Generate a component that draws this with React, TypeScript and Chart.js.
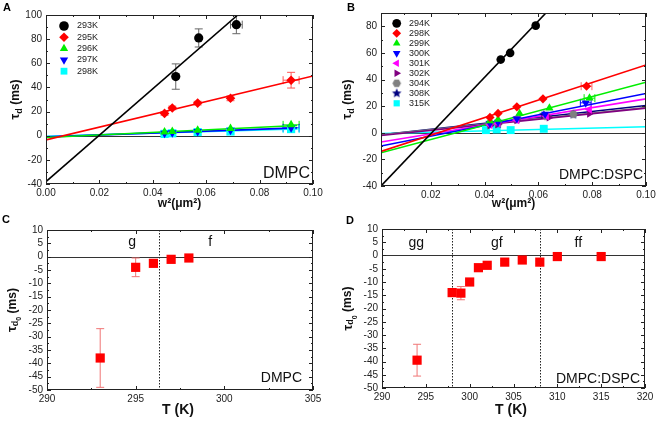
import React, { useEffect, useRef } from 'react';
import { Chart, registerables } from 'chart.js';
import { drawPoint } from 'chart.js/helpers';

Chart.register(...registerables);

const FONT = "'Liberation Sans', Arial, Helvetica, sans-serif";

// ---------------- Panel A (DMPC): tau_d vs w^2 ----------------
const aLabels = ['293K', '295K', '296K', '297K', '298K'];
const aColors = ['#000000', '#ff0000', '#00ee00', '#0000ff', '#00ffff'];
const aX293 = [0.0486, 0.0572, 0.0713];
const aY293 = [49, 81, 92];
const aErrY293 = [10.5, 7.5, 7.5];
const aErrX293 = [0, 0, 0.0022];
const aXw = [0.0444, 0.0473, 0.0568, 0.0691, 0.0918];
const aY295 = [18.5, 23, 27, 31, 46];
const aErrY295 = [1.5, 1.5, 1.5, 2, 6.5];
const aErrXw = [0, 0, 0, 0, 0.003];
const aY296 = [3, 3.5, 4.5, 6, 9];
const aY297 = [2, 2.5, 3.5, 4.5, 6.5];
const aY298 = [1.5, 2, 3, 3.5, 5.5];
// fit lines: [x0, y0, x1, y1]
const aFit293 = [0, -38, 0.0718, 100];
const aFit295 = [0, -3.5, 0.1, 49.5];
const aFit296 = [0, -1.5, 0.094, 8.5];
const aFit297 = [0, -1, 0.094, 6.5];
const aFit298 = [0, -0.5, 0.094, 5.5];
const aXRange = [0, 0.1, 0.02];
const aYRange = [-40, 100, 20];

// ---------------- Panel B (DMPC:DSPC): tau_d vs w^2 ----------------
const bLabels = ['294K', '298K', '299K', '300K', '301K', '302K', '304K', '308K', '315K'];
const bColors = ['#000000', '#ff0000', '#00ee00', '#0000ff', '#ff00ff', '#800080', '#808080', '#000080', '#00ffff'];
const bX294 = [0.046, 0.0495, 0.059];
const bY294 = [55, 60, 80.5];
const bX298 = [0.042, 0.045, 0.052, 0.0617, 0.0779];
const bY298 = [11.5, 14.5, 19.5, 25.5, 35];
const bX299 = [0.042, 0.045, 0.053, 0.0641, 0.079];
const bY299 = [9, 10, 14.5, 18.5, 26];
const bX300 = [0.042, 0.045, 0.052, 0.0625, 0.0776];
const bY300 = [7, 8, 10.5, 14, 22.5];
const bX301 = [0.042, 0.045, 0.052, 0.063, 0.079];
const bY301 = [6, 7, 9.5, 12.5, 17.5];
const bX302 = [0.042, 0.045, 0.052, 0.064, 0.079];
const bY302 = [5.5, 6.5, 9.5, 11.5, 14.5];
const bX304 = [0.042, 0.045, 0.052, 0.063, 0.073];
const bY304 = [6.5, 7, 10, 12.5, 14];
const bX308 = [0.042, 0.045, 0.052, 0.062, 0.073];
const bY308 = [7.5, 6.5, 10.5, 13.5, 13.7];
const bX315 = [0.0405, 0.0445, 0.0497, 0.062];
const bY315 = [2, 2.5, 2, 3];
const bErrX5 = [0, 0, 0, 0, 0.002];
const bFit294 = [0.0015, -40, 0.0628, 90];
const bFit298 = [0.0015, -14, 0.1, 51];
const bFit299 = [0.0015, -15, 0.1, 38];
const bFit300 = [0.0015, -10, 0.1, 29.5];
const bFit301 = [0.0015, -7, 0.1, 25.5];
const bFit302 = [0.0015, -2, 0.1, 18.5];
const bFit304 = [0.0015, -1.5, 0.1, 19];
const bFit308 = [0.0015, -1.5, 0.1, 20.5];
const bFit315 = [0.0015, -0.5, 0.1, 4.5];
const bXRange = [0.0015, 0.1, 0.02];
const bYRange = [-40, 90, 20];

// ---------------- Panel C (DMPC): tau_d0 vs T ----------------
const cT = [293, 295, 296, 297, 298];
const cTau0 = [-38, -4, -2.5, -1, -0.5];
const cErr = [11, 3.5, 0.5, 0.5, 0.5];
const cBoundaries = [296.3];
const cPhaseLabels = ['g', 'f'];
const cPhaseX = [294.8, 299.2];
const cXRange = [290, 305, 5];
const cYRange = [-50, 10, 5];

// ---------------- Panel D (DMPC:DSPC): tau_d0 vs T ----------------
const dT = [294, 298, 299, 300, 301, 302, 304, 306, 308, 310, 315];
const dTau0 = [-39.5, -14, -14.2, -10, -4.6, -3.7, -2.5, -1.7, -2.5, -0.4, -0.4];
const dErr = [6, 0.5, 2.5, 0.8, 0.5, 0.5, 0.5, 0.5, 0.5, 0.5, 0.5];
const dBoundaries = [298, 308];
const dPhaseLabels = ['gg', 'gf', 'ff'];
const dPhaseX = [293.9, 303.1, 312.4];
const dXRange = [290, 320, 5];
const dYRange = [-50, 10, 5];

// ---------------------------------------------------------------
function shapeCanvas(color: string, R: number, kind: string) {
  const c = document.createElement('canvas');
  const size = Math.ceil(R * 2) + 2;
  c.width = size;
  c.height = size;
  const g = c.getContext('2d')!;
  g.fillStyle = color;
  g.beginPath();
  if (kind === 'star') {
    for (let i = 0; i < 10; i++) {
      const r = i % 2 === 0 ? R : R * 0.45;
      const ang = -Math.PI / 2 + (i * Math.PI) / 5;
      g.lineTo(size / 2 + r * Math.cos(ang), size / 2 + r * Math.sin(ang));
    }
  } else {
    for (let i = 0; i < 6; i++) {
      const ang = (i * Math.PI) / 3;
      g.lineTo(size / 2 + R * Math.cos(ang), size / 2 + R * Math.sin(ang));
    }
  }
  g.closePath();
  g.fill();
  return c;
}

interface Series {
  label?: string;
  color: string;
  style: any;
  rot?: number;
  radius: number;
  xs: number[];
  ys: number[];
  errY?: number[];
  errX?: number[];
  errColor?: string;
  fit?: number[];
}

interface Part { text: string; font: string; dy?: number }

interface PanelDef {
  box: { left: number; top: number; w: number; h: number };
  area: { l: number; r: number; t: number; b: number };
  xr: number[];
  yr: number[];
  xDec: number;
  series: Series[];
  legend?: { dx: number; dy0: number; row: number; gap: number; r: number; font: string };
  letter: { text: string; x: number; y: number };
  xTitle: { parts: Part[]; y: number; cx?: number };
  yTitle: { parts: Part[]; x: number };
  sample: { text: string; font: string; dr: number; db: number };
  boundaries?: number[];
  phases?: { labels: string[]; xs: number[]; dt: number };
}

const BOLD = (s: number) => `bold ${s}px ${FONT}`;
const NORM = (s: number) => `${s}px ${FONT}`;

function resolveStyle(s: Series) {
  if (s.style === 'star' || s.style === 'hexagon') return shapeCanvas(s.color, s.radius, s.style);
  return s.style;
}

function drawRich(ctx: CanvasRenderingContext2D, parts: Part[], cx: number, cy: number, rotate: boolean) {
  ctx.save();
  ctx.translate(cx, cy);
  if (rotate) ctx.rotate(-Math.PI / 2);
  let total = 0;
  parts.forEach((p) => {
    ctx.font = p.font;
    total += ctx.measureText(p.text).width;
  });
  let x = -total / 2;
  ctx.textBaseline = 'middle';
  ctx.textAlign = 'left';
  ctx.fillStyle = '#111';
  parts.forEach((p) => {
    ctx.font = p.font;
    ctx.fillText(p.text, x, p.dy || 0);
    x += ctx.measureText(p.text).width;
  });
  ctx.restore();
}

function makeDecor(def: PanelDef, styles: any[]) {
  return {
    id: 'decor',
    beforeDatasetsDraw(chart: any) {
      const { ctx, chartArea: a, scales } = chart;
      const xs = scales.x;
      const ys = scales.y;
      ctx.save();
      ctx.beginPath();
      ctx.rect(a.left, a.top, a.right - a.left, a.bottom - a.top);
      ctx.clip();
      // zero line
      const y0 = Math.round(ys.getPixelForValue(0)) + 0.5;
      ctx.strokeStyle = '#333';
      ctx.lineWidth = 1;
      ctx.beginPath();
      ctx.moveTo(a.left, y0);
      ctx.lineTo(a.right, y0);
      ctx.stroke();
      // phase boundaries
      if (def.boundaries) {
        ctx.setLineDash([1.5, 1.5]);
        ctx.strokeStyle = '#222';
        def.boundaries.forEach((bv) => {
          const px = Math.round(xs.getPixelForValue(bv)) + 0.5;
          ctx.beginPath();
          ctx.moveTo(px, a.top);
          ctx.lineTo(px, a.bottom);
          ctx.stroke();
        });
        ctx.setLineDash([]);
      }
      // error bars
      def.series.forEach((s) => {
        ctx.strokeStyle = s.errColor || s.color;
        ctx.lineWidth = 1;
        s.xs.forEach((xv, i) => {
          const px = xs.getPixelForValue(xv);
          const py = ys.getPixelForValue(s.ys[i]);
          const ey = s.errY ? s.errY[i] : 0;
          const ex = s.errX ? s.errX[i] : 0;
          if (ey > 0) {
            const t = ys.getPixelForValue(s.ys[i] + ey);
            const b = ys.getPixelForValue(s.ys[i] - ey);
            ctx.beginPath();
            ctx.moveTo(px, t);
            ctx.lineTo(px, b);
            ctx.moveTo(px - 4, t);
            ctx.lineTo(px + 4, t);
            ctx.moveTo(px - 4, b);
            ctx.lineTo(px + 4, b);
            ctx.stroke();
          }
          if (ex > 0) {
            const l = xs.getPixelForValue(xv - ex);
            const r = xs.getPixelForValue(xv + ex);
            ctx.beginPath();
            ctx.moveTo(l, py);
            ctx.lineTo(r, py);
            ctx.moveTo(l, py - 4);
            ctx.lineTo(l, py + 4);
            ctx.moveTo(r, py - 4);
            ctx.lineTo(r, py + 4);
            ctx.stroke();
          }
        });
      });
      ctx.restore();
    },
    afterDraw(chart: any) {
      const { ctx, chartArea: a, scales } = chart;
      const xs = scales.x;
      const ys = scales.y;
      ctx.save();
      // frame
      ctx.strokeStyle = '#222';
      ctx.lineWidth = 1;
      ctx.strokeRect(a.left + 0.5, a.top + 0.5, a.right - a.left - 1, a.bottom - a.top - 1);
      // inward ticks
      const tickVals = (scale: any) => {
        const vals = scale.ticks.map((t: any) => t.value);
        const step = vals.length > 1 ? vals[1] - vals[0] : 0;
        const minors: number[] = [];
        vals.forEach((v: number) => minors.push(v - step / 2));
        if (vals.length) minors.push(vals[vals.length - 1] + step / 2);
        const eps = Math.abs(step) * 1e-3;
        return {
          major: vals,
          minor: minors.filter((m) => m > scale.min + eps && m < scale.max - eps),
        };
      };
      const tx = tickVals(xs);
      const ty = tickVals(ys);
      ctx.beginPath();
      const xTick = (v: number, len: number) => {
        const px = Math.round(xs.getPixelForValue(v)) + 0.5;
        ctx.moveTo(px, a.bottom);
        ctx.lineTo(px, a.bottom - len);
        ctx.moveTo(px, a.top);
        ctx.lineTo(px, a.top + len);
      };
      const yTick = (v: number, len: number) => {
        const py = Math.round(ys.getPixelForValue(v)) + 0.5;
        ctx.moveTo(a.left, py);
        ctx.lineTo(a.left + len, py);
        ctx.moveTo(a.right, py);
        ctx.lineTo(a.right - len, py);
      };
      tx.major.forEach((v: number) => xTick(v, 4));
      tx.minor.forEach((v: number) => xTick(v, 2));
      ty.major.forEach((v: number) => yTick(v, 4));
      ty.minor.forEach((v: number) => yTick(v, 2));
      ctx.stroke();

      // panel letter
      ctx.fillStyle = '#000';
      ctx.font = BOLD(11);
      ctx.textAlign = 'left';
      ctx.textBaseline = 'alphabetic';
      ctx.fillText(def.letter.text, def.letter.x, def.letter.y);

      // axis titles
      const cx = def.xTitle.cx !== undefined ? def.xTitle.cx : (a.left + a.right) / 2;
      drawRich(ctx, def.xTitle.parts, cx, def.xTitle.y, false);
      drawRich(ctx, def.yTitle.parts, def.yTitle.x, (a.top + a.bottom) / 2, true);

      // sample label
      ctx.fillStyle = '#111';
      ctx.font = def.sample.font;
      ctx.textAlign = 'right';
      ctx.textBaseline = 'alphabetic';
      ctx.fillText(def.sample.text, a.right - def.sample.dr, a.bottom - def.sample.db);

      // phase labels
      if (def.phases) {
        ctx.font = NORM(14);
        ctx.textAlign = 'center';
        def.phases.labels.forEach((lab, i) => {
          ctx.fillText(lab, xs.getPixelForValue(def.phases!.xs[i]), a.top + def.phases!.dt);
        });
      }

      // legend
      if (def.legend) {
        const L = def.legend;
        def.series.forEach((s, i) => {
          if (!s.label) return;
          const sx = a.left + L.dx;
          const sy = a.top + L.dy0 + i * L.row;
          ctx.fillStyle = s.color;
          drawPoint(ctx, { pointStyle: styles[i], rotation: s.rot || 0, radius: L.r, borderWidth: 0 } as any, sx, sy);
          ctx.fillStyle = '#222';
          ctx.font = L.font;
          ctx.textAlign = 'left';
          ctx.textBaseline = 'middle';
          ctx.fillText(s.label, sx + L.gap, sy);
        });
      }
      ctx.restore();
    },
  };
}

function buildConfig(def: PanelDef): any {
  const styles = def.series.map(resolveStyle);
  const datasets: any[] = [];
  def.series.forEach((s, i) => {
    datasets.push({
      label: s.label || '',
      data: s.xs.map((x, j) => ({ x, y: s.ys[j] })),
      showLine: false,
      pointStyle: styles[i],
      pointRotation: s.rot || 0,
      pointRadius: s.radius,
      pointHoverRadius: s.radius,
      pointBackgroundColor: s.color,
      pointBorderColor: s.color,
      pointBorderWidth: 0,
      order: 1,
    });
    if (s.fit) {
      datasets.push({
        label: '',
        data: [
          { x: s.fit[0], y: s.fit[1] },
          { x: s.fit[2], y: s.fit[3] },
        ],
        showLine: true,
        pointRadius: 0,
        borderColor: s.color,
        borderWidth: 1.6,
        order: 2,
      });
    }
  });
  const W = def.box.w;
  const H = def.box.h;
  const tickFont = { size: 10, family: FONT };
  return {
    type: 'scatter',
    data: { datasets },
    options: {
      responsive: false,
      animation: false,
      events: [],
      layout: { padding: { left: 0, top: def.area.t, right: W - def.area.r, bottom: 0 } },
      plugins: { legend: { display: false }, tooltip: { enabled: false } },
      scales: {
        x: {
          type: 'linear',
          min: def.xr[0],
          max: def.xr[1],
          grid: { display: false, drawTicks: false },
          border: { display: false },
          afterFit: (s: any) => {
            s.height = H - def.area.b;
            s.paddingLeft = 0;
            s.paddingRight = 0;
          },
          ticks: {
            stepSize: def.xr[2],
            includeBounds: false,
            autoSkip: false,
            maxRotation: 0,
            padding: 3,
            color: '#222',
            font: tickFont,
            callback: (v: any) => Number(v).toFixed(def.xDec),
          },
        },
        y: {
          type: 'linear',
          min: def.yr[0],
          max: def.yr[1],
          grid: { display: false, drawTicks: false },
          border: { display: false },
          afterFit: (s: any) => {
            s.width = def.area.l;
            s.paddingTop = 0;
            s.paddingBottom = 0;
          },
          ticks: {
            stepSize: def.yr[2],
            includeBounds: false,
            autoSkip: false,
            padding: 4,
            color: '#222',
            font: tickFont,
            callback: (v: any) => String(Math.round(Number(v))),
          },
        },
      },
    },
    plugins: [makeDecor(def, styles)],
  };
}

const W2_TITLE: Part[] = [{ text: 'w\u00b2(\u03bcm\u00b2)', font: BOLD(12) }];
const TAU_D: Part[] = [
  { text: '\u03c4', font: BOLD(13) },
  { text: 'd', font: BOLD(9), dy: 4 },
  { text: ' (ms)', font: BOLD(12) },
];
const TAU_D0: Part[] = [
  { text: '\u03c4', font: BOLD(13) },
  { text: 'd', font: BOLD(9), dy: 3 },
  { text: '0', font: BOLD(7), dy: 7 },
  { text: ' (ms)', font: BOLD(12) },
];
const T_TITLE: Part[] = [{ text: 'T (K)', font: BOLD(14) }];

const panelA: PanelDef = {
  box: { left: 0, top: 0, w: 328, h: 210 },
  area: { l: 46, r: 313, t: 15, b: 184 },
  xr: aXRange,
  yr: aYRange,
  xDec: 2,
  series: [
    { label: aLabels[0], color: aColors[0], style: 'circle', radius: 4.6, xs: aX293, ys: aY293, errY: aErrY293, errX: aErrX293, errColor: '#666', fit: aFit293 },
    { label: aLabels[1], color: aColors[1], style: 'rectRot', radius: 4.8, xs: aXw, ys: aY295, errY: aErrY295, errX: aErrXw, errColor: '#f55', fit: aFit295 },
    { label: aLabels[2], color: aColors[2], style: 'triangle', radius: 5, xs: aXw, ys: aY296, errX: aErrXw, fit: aFit296 },
    { label: aLabels[3], color: aColors[3], style: 'triangle', rot: 180, radius: 5, xs: aXw, ys: aY297, errX: aErrXw, fit: aFit297 },
    { label: aLabels[4], color: aColors[4], style: 'rect', radius: 5.8, xs: aXw, ys: aY298, errX: aErrXw, fit: aFit298 },
  ],
  legend: { dx: 18, dy0: 11, row: 11.3, gap: 13, r: 4.8, font: NORM(9) },
  letter: { text: 'A', x: 3, y: 11 },
  xTitle: { parts: W2_TITLE, y: 204 },
  yTitle: { parts: TAU_D, x: 15.5 },
  sample: { text: 'DMPC', font: NORM(16), dr: 3, db: 6 },
};

const panelB: PanelDef = {
  box: { left: 328, top: 0, w: 328, h: 210 },
  area: { l: 53, r: 318, t: 13, b: 186 },
  xr: bXRange,
  yr: bYRange,
  xDec: 2,
  series: [
    { label: bLabels[0], color: bColors[0], style: 'circle', radius: 4.3, xs: bX294, ys: bY294, fit: bFit294 },
    { label: bLabels[1], color: bColors[1], style: 'rectRot', radius: 4.6, xs: bX298, ys: bY298, errX: bErrX5, errColor: '#f66', fit: bFit298 },
    { label: bLabels[2], color: bColors[2], style: 'triangle', radius: 4.8, xs: bX299, ys: bY299, errX: bErrX5, fit: bFit299 },
    { label: bLabels[3], color: bColors[3], style: 'triangle', rot: 180, radius: 4.8, xs: bX300, ys: bY300, errX: bErrX5, fit: bFit300 },
    { label: bLabels[4], color: bColors[4], style: 'triangle', rot: 270, radius: 4.8, xs: bX301, ys: bY301, fit: bFit301 },
    { label: bLabels[5], color: bColors[5], style: 'triangle', rot: 90, radius: 4.8, xs: bX302, ys: bY302, fit: bFit302 },
    { label: bLabels[6], color: bColors[6], style: 'hexagon', radius: 4.3, xs: bX304, ys: bY304, fit: bFit304 },
    { label: bLabels[7], color: bColors[7], style: 'star', radius: 5, xs: bX308, ys: bY308, fit: bFit308 },
    { label: bLabels[8], color: bColors[8], style: 'rect', radius: 5.6, xs: bX315, ys: bY315, fit: bFit315 },
  ],
  legend: { dx: 15.7, dy0: 10.3, row: 10, gap: 12.3, r: 4.4, font: NORM(9) },
  letter: { text: 'B', x: 19, y: 11 },
  xTitle: { parts: W2_TITLE, y: 204 },
  yTitle: { parts: TAU_D, x: 19.5 },
  sample: { text: 'DMPC:DSPC', font: NORM(14), dr: 3, db: 7 },
};

const panelC: PanelDef = {
  box: { left: 0, top: 210, w: 328, h: 211 },
  area: { l: 47, r: 313, t: 20, b: 180 },
  xr: cXRange,
  yr: cYRange,
  xDec: 0,
  series: [
    { color: '#ff0000', style: 'rect', radius: 6.5, xs: cT, ys: cTau0, errY: cErr, errColor: '#f07575' },
  ],
  letter: { text: 'C', x: 2, y: 13 },
  xTitle: { parts: T_TITLE, y: 200, cx: 178 },
  yTitle: { parts: TAU_D0, x: 12.5 },
  sample: { text: 'DMPC', font: NORM(14), dr: 11, db: 8 },
  boundaries: cBoundaries,
  phases: { labels: cPhaseLabels, xs: cPhaseX, dt: 16 },
};

const panelD: PanelDef = {
  box: { left: 328, top: 210, w: 328, h: 211 },
  area: { l: 54, r: 317, t: 19, b: 178 },
  xr: dXRange,
  yr: dYRange,
  xDec: 0,
  series: [
    { color: '#ff0000', style: 'rect', radius: 6.5, xs: dT, ys: dTau0, errY: dErr, errColor: '#f07575' },
  ],
  letter: { text: 'D', x: 18, y: 14 },
  xTitle: { parts: T_TITLE, y: 200, cx: 183 },
  yTitle: { parts: TAU_D0, x: 20 },
  sample: { text: 'DMPC:DSPC', font: NORM(14), dr: 5, db: 5 },
  boundaries: dBoundaries,
  phases: { labels: dPhaseLabels, xs: dPhaseX, dt: 18 },
};

function Panel({ def }: { def: PanelDef }) {
  const ref = useRef<HTMLCanvasElement>(null);
  useEffect(() => {
    const chart = new Chart(ref.current as HTMLCanvasElement, buildConfig(def));
    return () => chart.destroy();
  }, [def]);
  return (
    <div style={{ position: 'absolute', left: def.box.left, top: def.box.top, width: def.box.w, height: def.box.h }}>
      <canvas ref={ref} width={def.box.w} height={def.box.h} style={{ display: 'block' }} />
    </div>
  );
}

export default function App() {
  return (
    <div style={{ position: 'absolute', left: 0, top: 0, width: 656, height: 421, background: '#ffffff', overflow: 'hidden' }}>
      <Panel def={panelA} />
      <Panel def={panelB} />
      <Panel def={panelC} />
      <Panel def={panelD} />
    </div>
  );
}
